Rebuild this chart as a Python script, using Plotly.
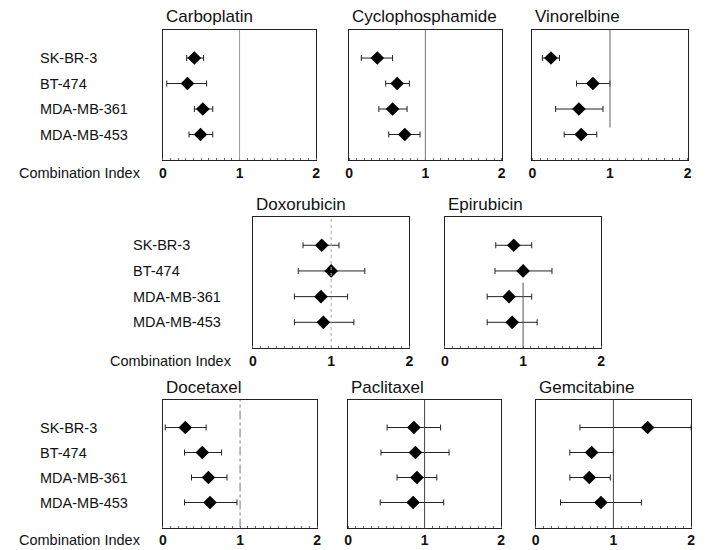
import plotly.graph_objects as go

# ---------------- data ----------------
cell_lines = ["SK-BR-3", "BT-474", "MDA-MB-361", "MDA-MB-453"]
drugs = ["Carboplatin", "Cyclophosphamide", "Vinorelbine", "Doxorubicin",
         "Epirubicin", "Docetaxel", "Paclitaxel", "Gemcitabine"]

ci_carboplatin = [0.41, 0.32, 0.52, 0.49]
lo_carboplatin = [0.31, 0.05, 0.41, 0.34]
hi_carboplatin = [0.53, 0.57, 0.65, 0.65]

ci_cyclophosphamide = [0.37, 0.63, 0.57, 0.73]
lo_cyclophosphamide = [0.16, 0.48, 0.39, 0.52]
hi_cyclophosphamide = [0.57, 0.79, 0.76, 0.93]

ci_vinorelbine = [0.24, 0.78, 0.60, 0.63]
lo_vinorelbine = [0.13, 0.57, 0.30, 0.41]
hi_vinorelbine = [0.35, 1.00, 0.91, 0.83]

ci_doxorubicin = [0.88, 1.00, 0.87, 0.90]
lo_doxorubicin = [0.64, 0.58, 0.53, 0.53]
hi_doxorubicin = [1.10, 1.43, 1.21, 1.29]

ci_epirubicin = [0.88, 1.00, 0.82, 0.86]
lo_epirubicin = [0.65, 0.64, 0.54, 0.54]
hi_epirubicin = [1.11, 1.37, 1.11, 1.18]

ci_docetaxel = [0.29, 0.51, 0.59, 0.61]
lo_docetaxel = [0.03, 0.28, 0.37, 0.28]
hi_docetaxel = [0.56, 0.76, 0.83, 0.96]

ci_paclitaxel = [0.86, 0.88, 0.90, 0.85]
lo_paclitaxel = [0.51, 0.43, 0.64, 0.42]
hi_paclitaxel = [1.21, 1.32, 1.16, 1.25]

ci_gemcitabine = [1.44, 0.72, 0.69, 0.84]
lo_gemcitabine = [0.57, 0.44, 0.44, 0.32]
hi_gemcitabine = [2.00, 1.00, 0.96, 1.36]

x_ticks = [0, 1, 2]
x_tick_labels = ["0", "1", "2"]
axis_title = "Combination Index"

series = [
    (ci_carboplatin, lo_carboplatin, hi_carboplatin),
    (ci_cyclophosphamide, lo_cyclophosphamide, hi_cyclophosphamide),
    (ci_vinorelbine, lo_vinorelbine, hi_vinorelbine),
    (ci_doxorubicin, lo_doxorubicin, hi_doxorubicin),
    (ci_epirubicin, lo_epirubicin, hi_epirubicin),
    (ci_docetaxel, lo_docetaxel, hi_docetaxel),
    (ci_paclitaxel, lo_paclitaxel, hi_paclitaxel),
    (ci_gemcitabine, lo_gemcitabine, hi_gemcitabine),
]

# ---------------- layout (screen pixels) ----------------
OFF = 8                      # page body margin
W, H = 708 - OFF, 550 - OFF  # figure size so it fills the window
boxes = [
    (160.7, 315.7, 30, 160),
    (349.0, 503.3, 30, 160),
    (534.3, 691.5, 30, 160),
    (251.7, 410.0, 217, 348),
    (446.0, 604.0, 217, 348),
    (160.7, 316.7, 400, 527.5),
    (348.0, 502.7, 400, 527.5),
    (537.7, 695.0, 400, 527.5),
]
# reference-line visible extent (y domain) per panel
ref_span = [(0, 1), (0, 1), (0.25, 1), (0, 1), (0, 0.5), (0, 1), (0, 1), (0, 1)]
ref_dash = ["solid", "solid", "solid", "dot", "solid", "dashdot", "solid", "solid"]
ref_color = ["#999", "#777", "#666", "#aaa", "#555", "#777", "#444", "#444"]

row_first_panel = [0, 3, 5]
row_label_x = [34, 128, 34]
ci_label_x = [13, 105, 13]

FONT = "Liberation Sans, Arial, sans-serif"


def fx(p):
    return (p - OFF) / W


def fy(p):
    return 1 - (p - OFF) / H


fig = go.Figure()
layout = dict(
    width=W, height=H,
    margin=dict(l=0, r=0, t=0, b=0),
    paper_bgcolor="white", plot_bgcolor="white",
    showlegend=False,
    font=dict(family=FONT, color="#111"),
)
annotations = []
shapes = []
ypos = list(range(len(cell_lines)))

for i, (name, (ci, lo, hi), box) in enumerate(zip(drugs, series, boxes)):
    k = "" if i == 0 else str(i + 1)
    x0, x1, y0, y1 = box
    plus = [h - c for h, c in zip(hi, ci)]
    minus = [c - l for c, l in zip(ci, lo)]
    fig.add_trace(go.Scatter(
        x=ci, y=ypos, mode="markers",
        marker=dict(symbol="diamond", size=10.5, color="black"),
        error_x=dict(type="data", symmetric=False, array=plus, arrayminus=minus,
                     color="#222", thickness=1, width=3),
        xaxis="x" + k, yaxis="y" + k, hoverinfo="skip",
    ))
    layout["xaxis" + k] = dict(
        domain=[fx(x0), fx(x1)], anchor="y" + k, range=[0, 2],
        showgrid=False, zeroline=False, showline=True, mirror=True,
        linecolor="#222", linewidth=1,
        tickvals=x_ticks, ticktext=x_tick_labels, ticks="",
        tickfont=dict(size=14, family=FONT, weight="bold", color="#111"),
        minor=dict(ticks="inside", ticklen=2, tickcolor="#666", dtick=0.1, showgrid=False),
    )
    layout["yaxis" + k] = dict(
        domain=[fy(y1), fy(y0)], anchor="x" + k, range=[4.0, -1.1],
        showgrid=False, zeroline=False, showline=True, mirror=True,
        linecolor="#222", linewidth=1, showticklabels=False, ticks="",
    )
    annotations.append(dict(
        text=name, xref="paper", yref="paper", x=fx(x0 + 1), y=fy(y0 - 13),
        xanchor="left", yanchor="middle", showarrow=False,
        font=dict(size=17, family=FONT, color="#111"),
    ))
    s0, s1 = ref_span[i]
    shapes.append(dict(
        type="line", xref="x" + k, yref="y" + k + " domain",
        x0=1, x1=1, y0=s0, y1=s1,
        line=dict(color=ref_color[i], width=1, dash=ref_dash[i]),
    ))

for r, p in enumerate(row_first_panel):
    k = "" if p == 0 else str(p + 1)
    for j, lab in enumerate(cell_lines):
        annotations.append(dict(
            text=lab, xref="paper", yref="y" + k, x=fx(row_label_x[r]), y=j,
            xanchor="left", yanchor="middle", showarrow=False,
            font=dict(size=14.5, family=FONT, color="#111"),
        ))
    bottom = boxes[p][3]
    annotations.append(dict(
        text=axis_title, xref="paper", yref="paper", x=fx(ci_label_x[r]),
        y=fy(bottom + 12.5), xanchor="left", yanchor="middle", showarrow=False,
        font=dict(size=14.5, family=FONT, color="#111"),
    ))

layout["annotations"] = annotations
layout["shapes"] = shapes
fig.update_layout(**layout)
fig.write_html("out.html")
